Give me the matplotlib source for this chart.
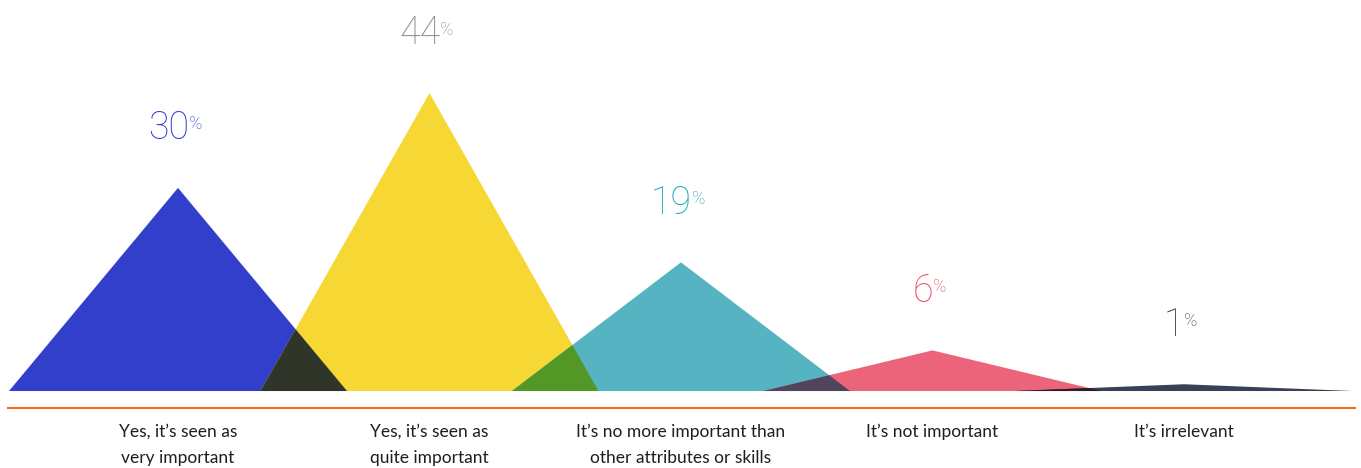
import numpy as np
import matplotlib.pyplot as plt
from matplotlib.colors import to_rgb

categories = ['Yes, it\u2019s seen as\nvery important',
              'Yes, it\u2019s seen as\nquite important',
              'It\u2019s no more important than\nother attributes or skills',
              'It\u2019s not important',
              'It\u2019s irrelevant']
values = [30, 44, 19, 6, 1]
fill_colors = ['#323fcb', '#f7d733', '#56b3c2', '#ec6479', '#3a4055']
label_colors = ['#2f3bd0', '#8c8c8c', '#1eaabc', '#e8475f', '#3a4055']

half = 0.672  # half width of each triangle, in category units

fig = plt.figure(figsize=(13.61, 4.68), dpi=100)
ax = fig.add_axes([0, 0, 1, 1])
ax.set_xlim(-0.7078, 4.704)
ax.set_ylim(-11.37, 57.75)
ax.axis('off')

x = np.arange(len(values))

# triangles
for i, v in enumerate(values):
    ax.fill([x[i] - half, x[i], x[i] + half], [0, v, 0],
            color=fill_colors[i], lw=0, zorder=2)

# overlaps between neighbours, coloured as multiply blend
for i in range(len(values) - 1):
    h1, h2 = values[i], values[i + 1]
    c1, c2 = x[i], x[i + 1]
    xs = (h1 * (c1 + half) + h2 * (c2 - half)) / (h1 + h2)
    ys = h1 * (c1 + half - xs) / half
    mix = np.array(to_rgb(fill_colors[i])) * np.array(to_rgb(fill_colors[i + 1]))
    ax.fill([c2 - half, xs, c1 + half], [0, ys, 0], color=mix, lw=0, zorder=3)

# orange base line
ax.plot([-0.676, 4.680], [-2.51, -2.51], color='#f26b1d', lw=1.5, zorder=1)

# category labels
for i, lab in enumerate(categories):
    ax.text(x[i], -4.85, lab, ha='center', va='top', fontsize=12.5,
            family='Lato', color='#1e1e1e', linespacing=1.75)

# value labels
for i, v in enumerate(values):
    num = ax.annotate(str(v), xy=(x[i], v), xytext=(-7, 35),
                      textcoords='offset points', ha='center', va='baseline',
                      fontsize=27, family='Roboto', fontweight='light',
                      color=label_colors[i])
    ax.annotate('%', xy=(1, 1), xycoords=num, xytext=(0, -4),
                textcoords='offset points', ha='left', va='top',
                fontsize=13, family='Roboto', fontweight='light',
                color=label_colors[i])

fig.savefig('out.png', dpi=100)
